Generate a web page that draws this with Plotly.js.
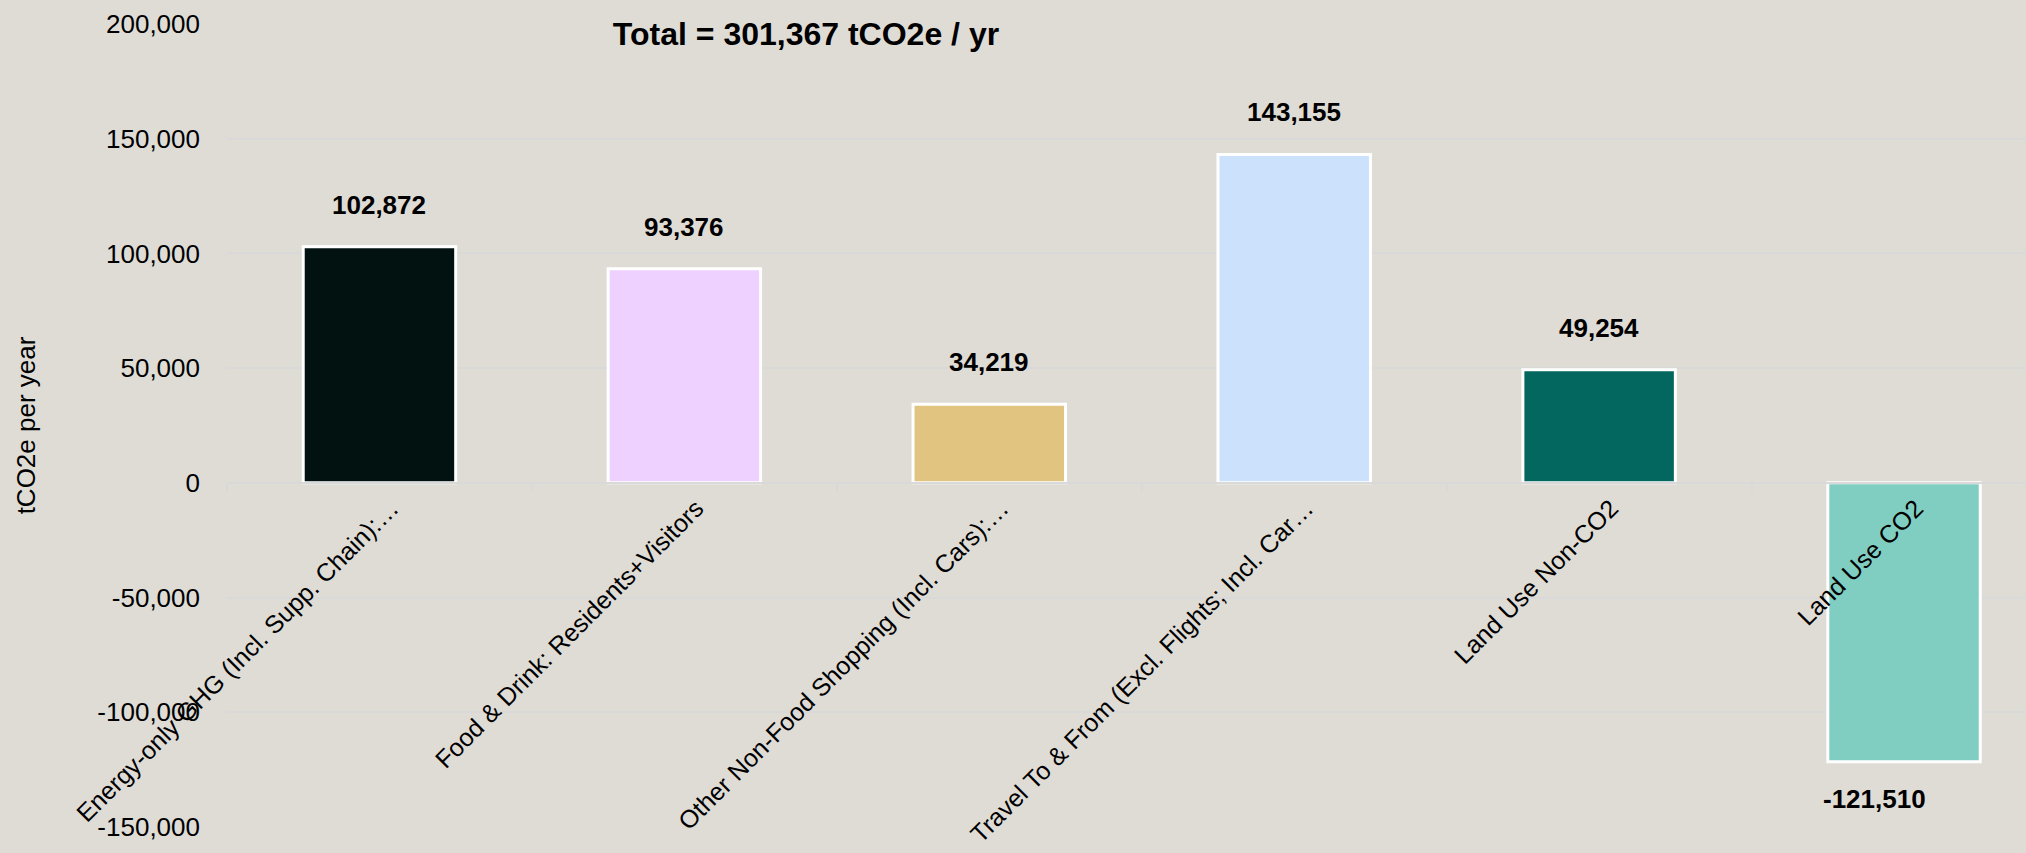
<!DOCTYPE html>
<html>
<head>
<meta charset="utf-8">
<script src="https://cdn.plot.ly/plotly-3.0.1.min.js"></script>
<style>
  html, body { margin: 0; padding: 0; background: #DFDCD6; overflow: hidden; }
  #chart { width: 2026px; height: 853px; }
</style>
</head>
<body>
<div id="chart"></div>
<script>
// ---- Data ----
const categories = [
  "Energy-only GHG (Incl. Supp. Chain):\u2026",
  "Food & Drink: Residents+Visitors",
  "Other Non-Food Shopping (Incl. Cars):\u2026",
  "Travel To & From (Excl. Flights; Incl. Car\u2026",
  "Land Use Non-CO2",
  "Land Use CO2"
];
const values = [102872, 93376, 34219, 143155, 49254, -121510];
const barColors = ["#021210", "#EFD1FF", "#E0C480", "#CCE2FC", "#03665F", "#80CEC2"];
const totalText = "Total = 301,367 tCO2e / yr";
const yTitle = "tCO2e per year";
const yTickVals = [-150000, -100000, -50000, 0, 50000, 100000, 150000, 200000];
const yTickText = ["-150,000", "-100,000", "-50,000", "0", "50,000", "100,000", "150,000", "200,000"];

// ---- Chart ----
const FONT = "Liberation Sans, Arial, sans-serif";
const BG = "#DFDCD6";
const GRID = "#D9D9D9";

const trace = {
  type: "bar",
  x: categories,
  y: values,
  width: 0.5,
  marker: { color: barColors, line: { color: "#FFFFFF", width: 3 } },
  hoverinfo: "skip"
};

const labelAnnotations = categories.map((c, i) => ({
  x: c,
  y: values[i],
  xref: "x",
  yref: "y",
  text: "<b>" + values[i].toLocaleString("en-US") + "</b>",
  showarrow: false,
  xanchor: "center",
  yanchor: "middle",
  xshift: values[i] < 0 ? -30 : 0,
  yshift: values[i] < 0 ? -37 : 42,
  font: { family: FONT, size: 26, color: "#000000" }
}));

const layout = {
  width: 2026,
  height: 853,
  autosize: false,
  paper_bgcolor: BG,
  plot_bgcolor: BG,
  margin: { l: 227, r: 0, t: 24, b: 26, pad: 0 },
  showlegend: false,
  font: { family: FONT, size: 26, color: "#000000" },
  title: {
    text: "<b>" + totalText + "</b>",
    font: { family: FONT, size: 32, color: "#000000" },
    xref: "container",
    yref: "container",
    x: 806 / 2026,
    y: 1 - 34 / 853,
    xanchor: "center",
    yanchor: "middle"
  },
  xaxis: {
    type: "category",
    range: [-0.5, 5.4],
    anchor: "free",
    position: 150000 / 350000,
    showgrid: false,
    showline: true,
    linecolor: GRID,
    linewidth: 2,
    ticks: "outside",
    tickson: "boundaries",
    ticklen: 8,
    tickwidth: 2,
    tickcolor: GRID,
    tickangle: -45,
    ticklabelshift: 12,
    tickfont: { family: FONT, size: 25, color: "#000000" },
    layer: "above traces",
    fixedrange: true
  },
  yaxis: {
    range: [-150000, 200000],
    tickvals: yTickVals,
    ticktext: yTickText,
    showgrid: true,
    gridcolor: GRID,
    gridwidth: 2,
    zeroline: false,
    showline: false,
    ticks: "",
    ticklabelstandoff: 26,
    tickfont: { family: FONT, size: 26, color: "#000000" },
    title: {
      text: yTitle,
      font: { family: FONT, size: 26, color: "#000000" },
      standoff: 54
    },
    automargin: false,
    fixedrange: true
  },
  annotations: labelAnnotations,
  hovermode: false
};

Plotly.newPlot("chart", [trace], layout, { displayModeBar: false, staticPlot: true });
</script>
</body>
</html>
